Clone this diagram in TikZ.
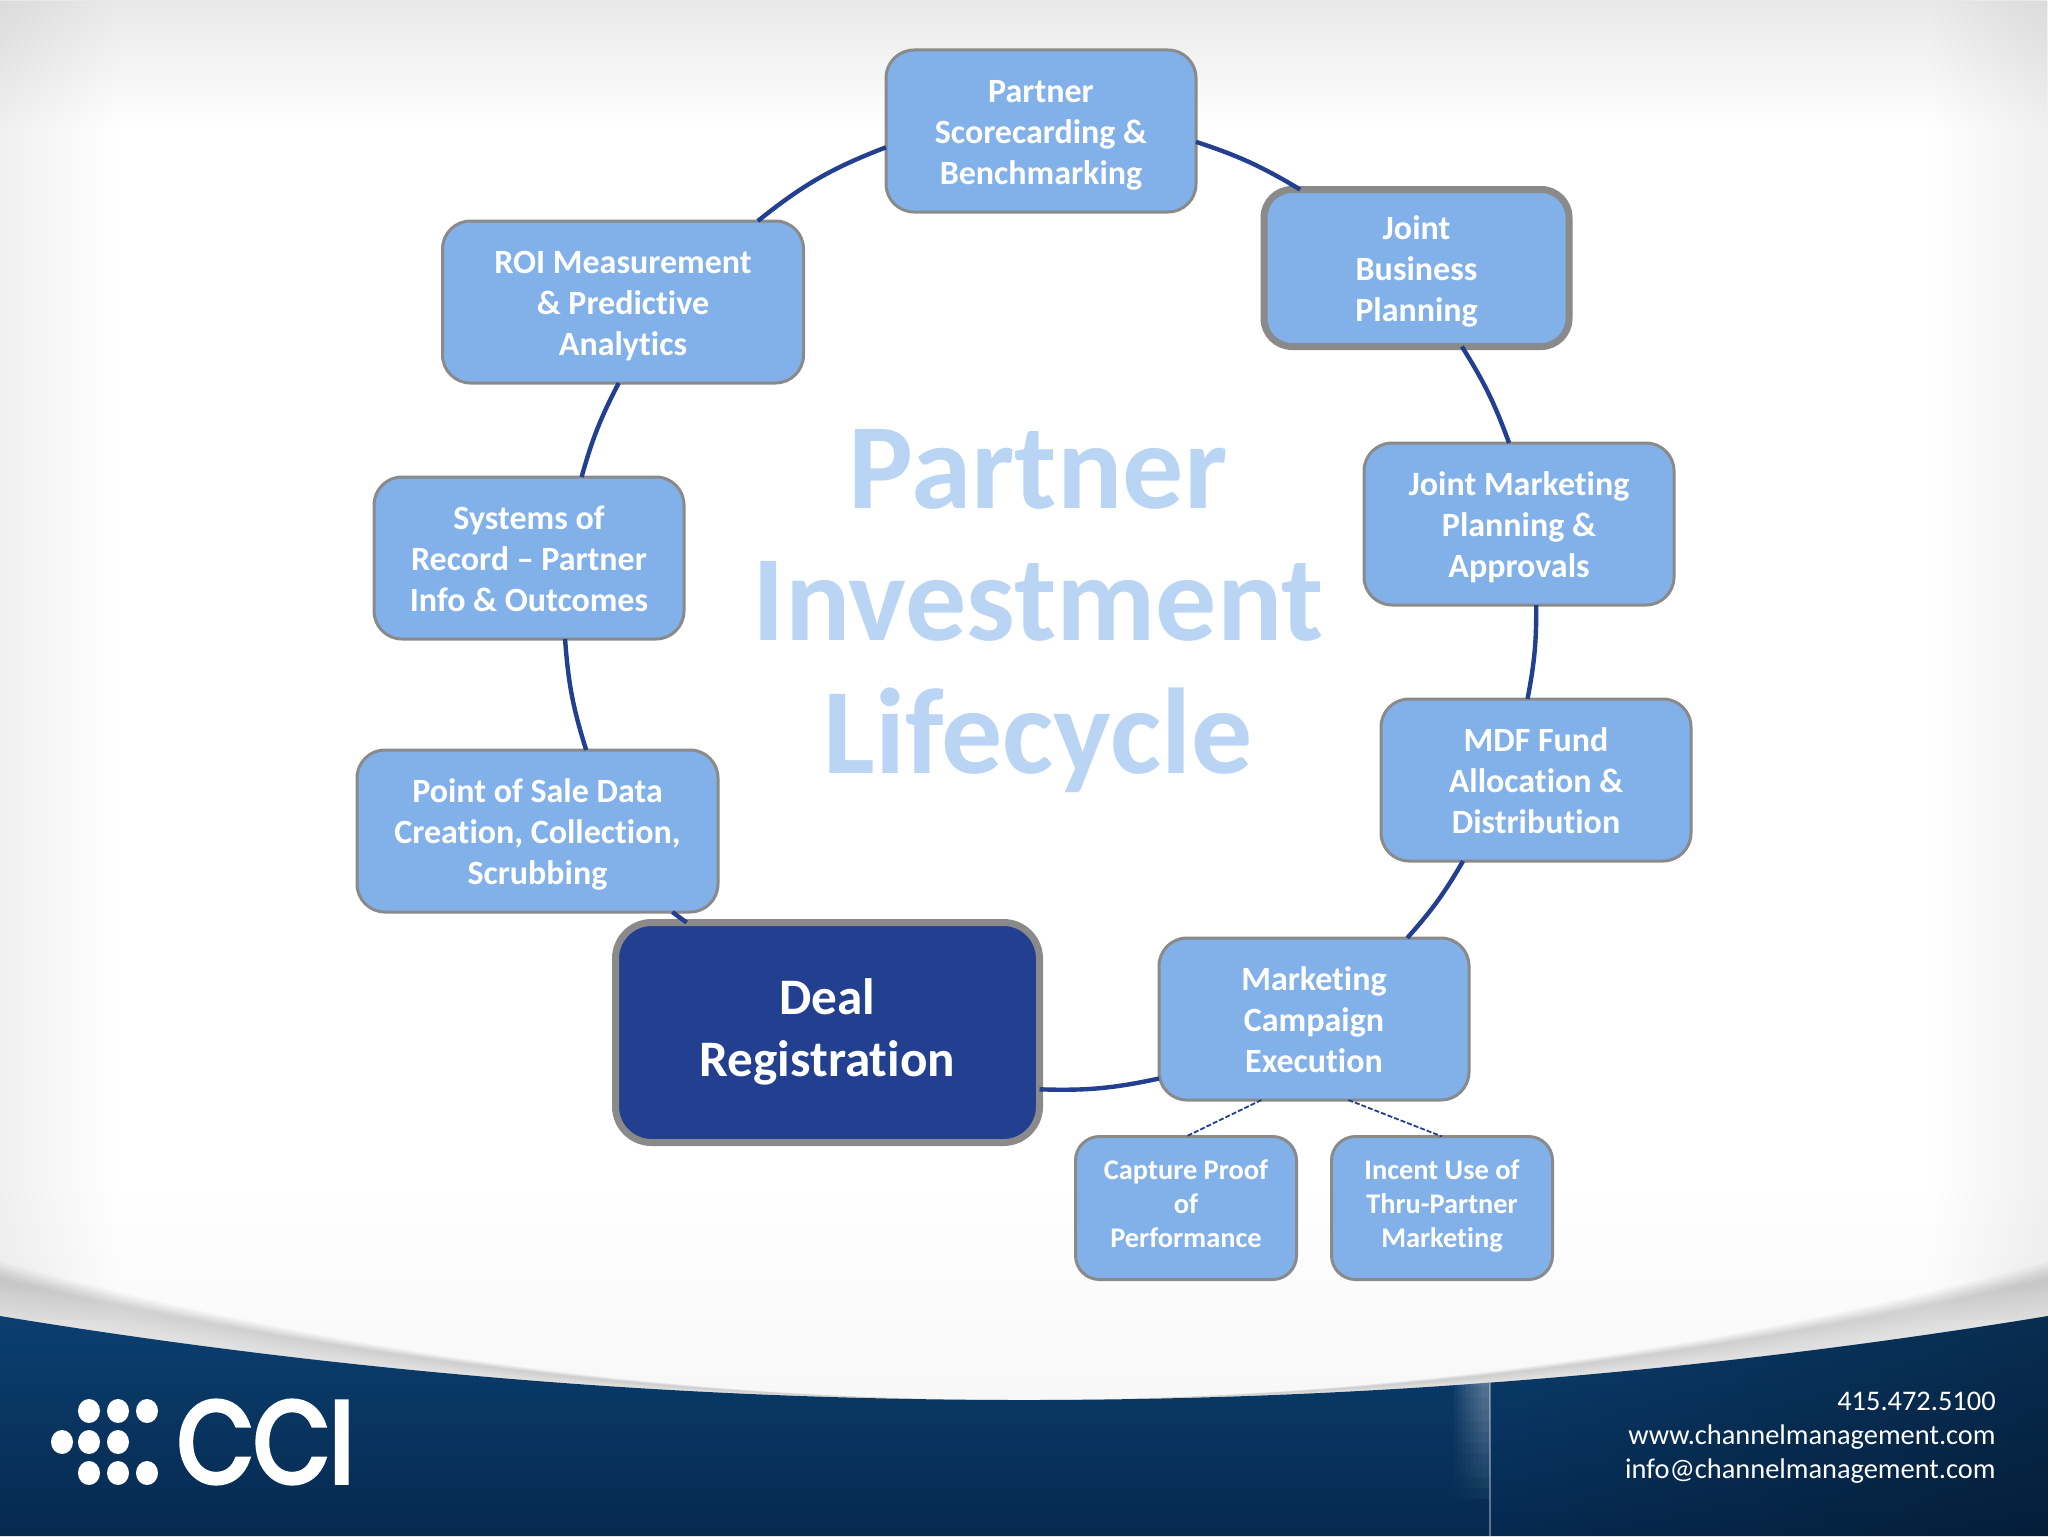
\documentclass[tikz,border=0pt]{standalone}
\usepackage{fontspec}
\setmainfont{Carlito}[Ligatures=NoCommon]
\newfontfamily\logofont[FakeBold=4,FakeStretch=0.85]{Poppins}
\usetikzlibrary{fadings}
\definecolor{boxblue}{HTML}{82B1E9}
\definecolor{navy}{HTML}{233F8F}
\definecolor{edgegray}{HTML}{8A8A8A}
\definecolor{titleblue}{HTML}{B9D5F3}
\definecolor{bandtop}{HTML}{0B3F70}
\definecolor{bandbot}{HTML}{06294F}
\newcommand{\hd}{\rule{0pt}{\hdsize}}
\newcommand{\hdsize}{18.5pt}
\tikzset{
  card/.style={draw=edgegray,line width=1.5pt,fill=boxblue,rounded corners=14pt,text=white,align=center,inner sep=0pt,outer sep=0pt,
    font=\fontsize{17}{20.5}\selectfont\bfseries\def\hdsize{18.5pt},execute at end node={\rule[-6.15pt]{0pt}{0pt}}},
  widecard/.style={card,minimum width=180.5pt,minimum height=81pt},
  stdcard/.style={card,minimum width=155pt,minimum height=81pt},
  thickcard/.style={stdcard,line width=3.5pt,minimum width=152.5pt,minimum height=78.5pt},
  smallcard/.style={card,minimum width=110.5pt,minimum height=71.5pt,rounded corners=12pt,font=\fontsize{14.2}{17}\selectfont\bfseries\def\hdsize{12.1pt},
    execute at end node={\rule[-5.1pt]{0pt}{0pt}}},
  dealcard/.style={card,line width=3.5pt,fill=navy,rounded corners=18pt,minimum width=212pt,minimum height=110pt,font=\fontsize{25.6}{31}\selectfont\bfseries\def\hdsize{23pt},
    execute at end node={\rule[-10.3pt]{0pt}{0pt}}},
  ring/.style={draw=navy,line width=2.2pt},
  dashlink/.style={draw=navy,line width=0.9pt,dash pattern=on 2.5pt off 1pt},
  titletext/.style={text=titleblue,align=center,font=\fontsize{61}{66.2}\selectfont\bfseries,
    execute at end node={\rule[-19.65pt]{0pt}{0pt}}},
  foottext/.style={text=white,align=right,font=\fontsize{14.2}{17}\selectfont},
  logotext/.style={text=white,font=\fontsize{58}{58}\logofont},
  dot/.style={fill=white}
}
\newcommand{\bandcurve}{(0,1316) .. controls (683,1428) and (1365,1428) .. (2048,1316)}
\begin{document}
\begin{tikzpicture}[x=0.5pt,y=-0.5pt]
\useasboundingbox (0,0) rectangle (2048,1536);
% page background
\fill[white] (0,0) rectangle (2048,1536);
\fill[black,fill opacity=.085,path fading=south] (0,0) rectangle (2048,130);
\fill[black,fill opacity=.06,path fading=east] (0,0) rectangle (120,1320);
\fill[black,fill opacity=.06,path fading=west] (1928,0) rectangle (2048,1320);
\fill[black,fill opacity=.03,path fading=north] (0,1180) rectangle (2048,1420);
% grey swoosh above the band
\foreach \i in {0,...,5}{
  \pgfmathsetmacro{\ya}{1262+3*\i}
  \pgfmathsetmacro{\yc}{\ya+(1400-\ya)*4/3}
  \fill[black,fill opacity=.028] (0,\ya) .. controls (683,\yc) and (1365,\yc) .. (2048,\ya) -- (2048,1316) .. controls (1365,1428) and (683,1428) .. (0,1316) -- cycle;
}
\foreach \i in {1,...,10}{
  \pgfmathsetmacro{\ya}{1280+3.5*\i}
  \pgfmathsetmacro{\yc}{\ya+(1400-\ya)*4/3}
  \fill[white,fill opacity=.06] (0,\ya) .. controls (683,\yc) and (1365,\yc) .. (2048,\ya) -- (2048,1316) .. controls (1365,1428) and (683,1428) .. (0,1316) -- cycle;
}
% dark band
\shade[top color=bandtop,bottom color=bandbot] \bandcurve -- (2048,1536) -- (0,1536) -- cycle;
\begin{scope}
  \clip \bandcurve -- (2048,1536) -- (0,1536) -- cycle;
  \fill[black,fill opacity=.28,path fading=west] (1490,1316) rectangle (2048,1536);
  \foreach \i in {2,...,9}{
    \fill[white,fill opacity=.05,path fading=south] (1490-4*\i,1370) rectangle (1490,1515);
  }
  \draw[white,opacity=.35,line width=1pt] (1490,1370) -- (1490,1536);
\end{scope}
% boxes
\node[stdcard]   (scorecard) at (1041,131)    {\hd Partner\\Scorecarding \&\\Benchmarking};
\node[thickcard] (business)  at (1416.5,268)  {\hd Joint\\Business\\Planning};
\node[stdcard]   (approvals) at (1519,524)    {\hd Joint Marketing\\Planning \&\\Approvals};
\node[stdcard]   (mdf)       at (1536,780)    {\hd MDF Fund\\Allocation \&\\Distribution};
\node[stdcard]   (campaign)  at (1314,1019)   {\hd Marketing\\Campaign\\Execution};
\node[dealcard]  (deal)      at (827.5,1032.5){\hd Deal\\Registration};
\node[widecard]  (pos)       at (537.5,831)   {\hd Point of Sale Data\\Creation, Collection,\\Scrubbing};
\node[stdcard]   (systems)   at (529,558)     {\hd Systems of\\Record – Partner\\Info \& Outcomes};
\node[widecard]  (roi)       at (623,302)     {\hd ROI Measurement\\\& Predictive\\Analytics};
\node[smallcard] (capture)   at (1186,1208)   {\hd Capture Proof\\of\\Performance};
\node[smallcard] (incent)    at (1442,1208)   {\hd Incent Use of\\Thru-Partner\\Marketing};
% ring connectors
\draw[ring] (scorecard.-4.4) to[bend left=6.4] (business.146);
\draw[ring] (business.-60.4) to[bend left=6.1] (approvals.97.7);
\draw[ring] (approvals.-78.1) to[bend left=5.6] (mdf.96.3);
\draw[ring] (mdf.228.4) to[bend left=5.8] (campaign.41.7);
\draw[ring] (campaign.201.5) to[bend left=7] (deal.-15.6);
\draw[ring] (deal.142.9) to[bend left=0.7] (pos.-31);
\draw[ring] (pos.59.1) to[bend left=6.7] (systems.-66);
\draw[ring] (systems.57.3) to[bend left=6] (roi.-93.5);
\draw[ring] (roi.31.9) to[bend left=8.9] (scorecard.186.6);
\draw[dashlink] (campaign.237.8) -- (capture.north);
\draw[dashlink] (campaign.-67.2) -- (incent.north);
% centre title
\node[titletext] (title) at (1038,621) {Partner\\Investment\\Lifecycle};
% footer
\node[foottext,anchor=east,inner sep=0pt] (contact) at (1996,1438) {415.472.5100\\www.channelmanagement.com\\info@channelmanagement.com};
\node[logotext,anchor=west,inner sep=0pt] (cci) at (177,1442) {CCI};
\foreach \x/\y in {89/1411,118/1411,147/1411,62/1442,89/1442,118/1442,89/1473,118/1473,147/1473}{
  \fill[dot] (\x,\y) ellipse [x radius=11,y radius=12];
}
\end{tikzpicture}
\end{document}
